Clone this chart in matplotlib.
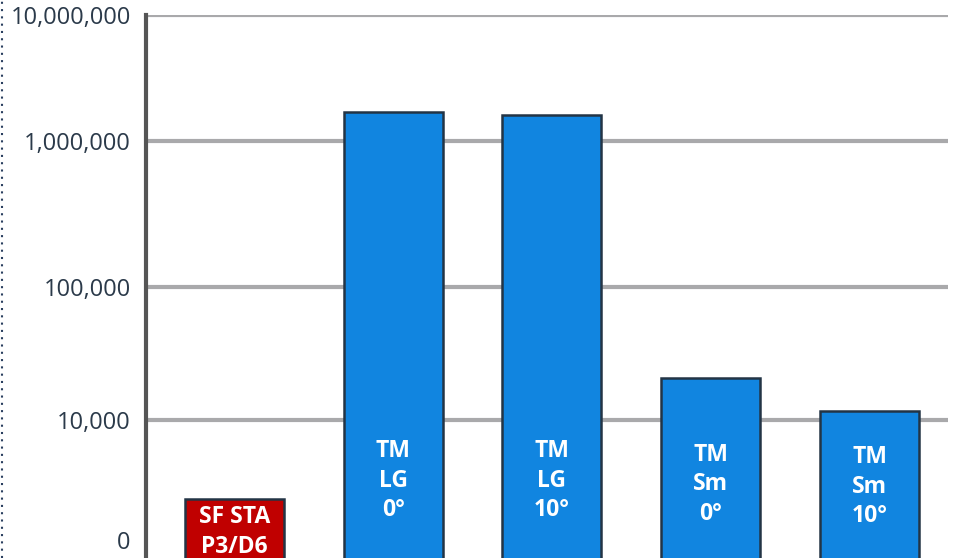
import numpy as np
import matplotlib

matplotlib.use("Agg")
import matplotlib.pyplot as plt
from matplotlib.lines import Line2D

# Daten
bar_labels = ["SF STA\nP3/D6", "TM\nLG\n0°", "TM\nLG\n10°", "TM\nSm\n0°", "TM\nSm\n10°"]
bar_values = [2200, 1700000, 1610000, 20700, 11700]
bar_colors = ["#c00000", "#1185e0", "#1185e0", "#1185e0", "#1185e0"]
tick_values = [1e3, 1e4, 1e5, 1e6, 1e7]
tick_labels = ["0", "10,000", "100,000", "1,000,000", "10,000,000"]
grid_values = [1e4, 1e5, 1e6, 1e7]

# Layout: Textposition in den Balken (Achsenanteil)
label_y = [0.048, 0.142, 0.142, 0.136, 0.131]

# Die Dekaden im Original sind nicht gleich hoch -> stückweise log-Skala
LOG_KNOTS = [-12, 3, 4, 5, 6, 7, 12]
U_KNOTS = [18 - 15 * 120, 18, 138, 271, 417, 543, 543 + 5 * 126]


def _fwd(v):
    v = np.clip(np.asarray(v, dtype=float), 1e-12, None)
    return np.interp(np.log10(v), LOG_KNOTS, U_KNOTS)


def _inv(u):
    return 10 ** np.interp(np.asarray(u, dtype=float), U_KNOTS, LOG_KNOTS)


plt.rcParams["font.family"] = ["Open Sans", "DejaVu Sans"]

fig = plt.figure(figsize=(9.55, 5.58), dpi=100)
ax = fig.add_axes([146 / 955, 0, (948 - 146) / 955, 543 / 558])

ax.set_yscale("function", functions=(_fwd, _inv))
ax.set_ylim(_inv(0), 1e7)

x = np.arange(len(bar_values))
ax.set_xlim(-0.556, 4.494)

ax.hlines(grid_values, 0.003, 1, transform=ax.get_yaxis_transform(),
          color="#a9a9ab", linewidth=3, zorder=1)

ax.bar(x, bar_values, width=0.623, bottom=1, color=bar_colors,
       edgecolor="#233445", linewidth=1.8, zorder=2)

for xi, lab, ly in zip(x, bar_labels, label_y):
    ax.text(xi, ly, lab, transform=ax.get_xaxis_transform(), ha="center",
            va="center", color="white", fontsize=16.5, fontweight="bold",
            linespacing=1.3, zorder=3)

ax.set_yticks(tick_values)
ax.set_yticklabels(tick_labels)
ax.yaxis.set_minor_locator(matplotlib.ticker.NullLocator())
ax.tick_params(axis="y", length=0, pad=11, labelsize=17, labelcolor="#2b3a4a")
ax.set_xticks([])

for side in ["top", "right", "bottom"]:
    ax.spines[side].set_visible(False)
ax.spines["left"].set_color("#555555")
ax.spines["left"].set_linewidth(3)

# gepunktete Linie am linken Rand
fig.add_artist(Line2D([1.5 / 955, 1.5 / 955], [0, 1], transform=fig.transFigure,
                      color="#2a3f5f", linestyle=(0, (1, 2.5)), linewidth=1.5))

fig.savefig("out.png", dpi=100)
plt.close(fig)
